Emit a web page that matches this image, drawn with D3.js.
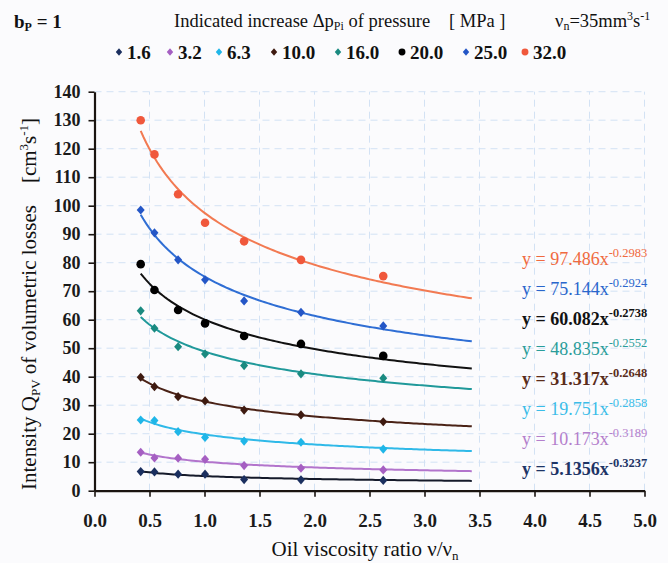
<!DOCTYPE html>
<html><head><meta charset="utf-8">
<script src="https://cdn.jsdelivr.net/npm/d3@7"></script>
<style>
body{margin:0;background:#fbfbfd}
svg{display:block}
svg text{font-family:"Liberation Serif","Times New Roman",serif !important}
</style>
</head><body>
<svg id="c" width="668" height="563"></svg>
<script>
// ---- data ----
const xValues = [0.42, 0.545, 0.76, 1.005, 1.36, 1.877, 2.625];
const pressures = ["1.6", "3.2", "6.3", "10.0", "16.0", "20.0", "25.0", "32.0"];
const q1_6  = [6.7, 6.6, 5.8, 5.8, 3.9, 3.8, 3.6];
const q3_2  = [13.5, 11.5, 11.4, 11.0, 8.8, 7.9, 7.3];
const q6_3  = [24.8, 24.6, 20.7, 18.7, 17.4, 17.0, 14.6];
const q10_0 = [39.8, 36.5, 33.0, 31.5, 28.3, 26.6, 24.2];
const q16_0 = [63.1, 57.0, 50.5, 48.0, 43.9, 41.0, 39.5];
const q20_0 = [79.5, 70.4, 63.4, 58.7, 54.3, 51.5, 47.3];
const q25_0 = [98.5, 90.5, 81.0, 74.0, 66.6, 62.6, 57.8];
const q32_0 = [130.0, 118.0, 104.0, 94.0, 87.5, 81.0, 75.3];
const fitCoef = [5.1356, 10.173, 19.751, 31.317, 48.835, 60.082, 75.144, 97.486];
const fitExp  = [-0.3237, -0.3189, -0.2858, -0.2648, -0.2552, -0.2738, -0.2924, -0.2983];
const fitCoefText = ["5.1356", "10.173", "19.751", "31.317", "48.835", "60.082", "75.144", "97.486"];
const fitExpText  = ["-0.3237", "-0.3189", "-0.2858", "-0.2648", "-0.2552", "-0.2738", "-0.2924", "-0.2983"];
const fitRange = [0.42, 3.43];
const xTicks = [0, 0.5, 1, 1.5, 2, 2.5, 3, 3.5, 4, 4.5, 5];
const yTicks = [0, 10, 20, 30, 40, 50, 60, 70, 80, 90, 100, 110, 120, 130, 140];

const seriesValues = [q1_6, q3_2, q6_3, q10_0, q16_0, q20_0, q25_0, q32_0];
const markerColors = ["#1b2f5f", "#a55fc2", "#1fb6e8", "#3e1a10", "#1a8a80", "#000000", "#2456c6", "#f0583c"];
const lineColors   = ["#151a2a", "#b274cc", "#2fb9e8", "#4a2216", "#20999a", "#111111", "#2f6ed4", "#f27a52"];
const eqColors     = ["#1d3466", "#b47fcc", "#3bbde8", "#5a2c1a", "#2a9d9a", "#111111", "#2a66cc", "#f06a40"];
const eqBold       = [true, false, false, true, false, true, false, false];
const markerShapes = ["d", "d", "d", "d", "d", "c", "d", "c"];

// ---- layout ----
const svg = d3.select("#c");
svg.append("rect").attr("width", 668).attr("height", 563).attr("fill", "#fbfbfd");
const x = d3.scaleLinear().domain([0, 5]).range([94.5, 644.5]);
const y = d3.scaleLinear().domain([0, 140]).range([490.7, 91.7]);

// grid
const grid = svg.append("g").attr("stroke", "#d3e2f4").attr("stroke-width", 1).attr("stroke-dasharray", "7,5");
grid.selectAll("line.h").data(yTicks.slice(1)).join("line")
  .attr("x1", x(0)).attr("x2", x(5)).attr("y1", d => y(d)).attr("y2", d => y(d));
grid.selectAll("line.v").data(xTicks.slice(1)).join("line")
  .attr("y1", y(0)).attr("y2", y(140)).attr("x1", d => x(d)).attr("x2", d => x(d));

// axes
const xAxis = svg.append("g").attr("transform", `translate(0,${y(0)})`)
  .call(d3.axisBottom(x).tickValues(xTicks).tickFormat(d3.format(".1f")).tickSize(6).tickSizeOuter(0));
xAxis.attr("font-family", null);
xAxis.selectAll("text").attr("y", 36).attr("dy", 0)
  .attr("font-size", 19).attr("font-weight", "bold").attr("fill", "#1a1a1a");
const yAxis = svg.append("g").attr("transform", `translate(${x(0)},0)`)
  .call(d3.axisLeft(y).tickValues(yTicks).tickSize(6).tickPadding(8).tickSizeOuter(0));
yAxis.attr("font-family", null);
yAxis.selectAll("text").attr("font-size", 18).attr("font-weight", "bold").attr("fill", "#1a1a1a");
svg.selectAll(".domain").attr("stroke", "#1a1410").attr("stroke-width", 2.2);
svg.selectAll(".tick line").attr("stroke", "#1a1410").attr("stroke-width", 1.6);

// fitted curves
const line = d3.line().x(d => x(d[0])).y(d => y(d[1]));
const samples = d3.range(0, 121).map(i => fitRange[0] + (fitRange[1] - fitRange[0]) * i / 120);
fitCoef.forEach((a, i) => {
  svg.append("path")
    .datum(samples.map(t => [t, a * Math.pow(t, fitExp[i])]))
    .attr("fill", "none").attr("stroke", lineColors[i]).attr("stroke-width", 2).attr("d", line);
});

// markers
const diamond = {draw(ctx) { const w = 4, h = 4.6; ctx.moveTo(0, -h); ctx.lineTo(w, 0); ctx.lineTo(0, h); ctx.lineTo(-w, 0); ctx.closePath(); }};
const dot = {draw(ctx) { const r = 4.3; ctx.moveTo(r, 0); ctx.arc(0, 0, r, 0, 2 * Math.PI); }};
seriesValues.forEach((vals, i) => {
  const sym = d3.symbol().type(markerShapes[i] === "c" ? dot : diamond);
  svg.append("g").selectAll("path").data(vals).join("path")
    .attr("transform", (d, j) => `translate(${x(xValues[j])},${y(d)})`)
    .attr("d", sym()).attr("fill", markerColors[i]);
});

// equations (top to bottom: 32.0 ... 1.6)
const eqG = svg.append("g").attr("font-size", 18);
for (let k = 0; k < 8; k++) {
  const i = 7 - k;
  const t = eqG.append("text").attr("x", 522).attr("y", 265 + k * 30)
    .attr("fill", eqColors[i]).attr("font-weight", eqBold[i] ? "bold" : "normal");
  t.append("tspan").text(`y = ${fitCoefText[i]}x`);
  t.append("tspan").attr("dy", -8).attr("font-size", 12.5).text(fitExpText[i]);
}

// title row
const tt = svg.append("text").attr("x", 14).attr("y", 28).attr("fill", "#111")
  .attr("font-size", 19).attr("font-weight", "bold");
tt.append("tspan").text("b");
tt.append("tspan").attr("dy", 3).attr("font-size", 12).text("P");
tt.append("tspan").attr("dy", -3).text(" = 1");

const t2 = svg.append("text").attr("x", 174).attr("y", 27).attr("fill", "#111").attr("font-size", 18.5);
t2.append("tspan").text("Indicated increase Δp");
t2.append("tspan").attr("dy", 3).attr("font-size", 12).text("Pi");
t2.append("tspan").attr("dy", -3).text(" of pressure");
svg.append("text").attr("x", 449).attr("y", 27).attr("fill", "#111").attr("font-size", 18.5).text("[ MPa ]");

const t3 = svg.append("text").attr("x", 555).attr("y", 27).attr("fill", "#111").attr("font-size", 18.5);
t3.append("tspan").text("ν");
t3.append("tspan").attr("dy", 3).attr("font-size", 12).text("n");
t3.append("tspan").attr("dy", -3).text("=35mm");
t3.append("tspan").attr("dy", -7).attr("font-size", 12).text("3");
t3.append("tspan").attr("dy", 7).text("s");
t3.append("tspan").attr("dy", -7).attr("font-size", 12).text("-1");

// legend
const legX = [119, 170, 219, 274, 338, 402, 466, 525];
pressures.forEach((p, i) => {
  const g = svg.append("g").attr("transform", `translate(${legX[i]},52)`);
  g.append("path").attr("d", d3.symbol().type(markerShapes[i] === "c" ? dot : diamond)()).attr("fill", markerColors[i])
    .attr("transform", "scale(0.8)");
  g.append("text").attr("x", 8).attr("y", 6.5).attr("fill", "#111")
    .attr("font-size", 19).attr("font-weight", "bold").text(p);
});

// axis titles
const xl = svg.append("text").attr("x", 365).attr("y", 556).attr("text-anchor", "middle").attr("fill", "#111").attr("font-size", 21);
xl.append("tspan").text("Oil viscosity ratio ν/ν");
xl.append("tspan").attr("dy", 4).attr("font-size", 13).text("n");

const yl = svg.append("text").attr("transform", "translate(36,490) rotate(-90)").attr("fill", "#111").attr("font-size", 21);
yl.append("tspan").text("Intensity Q");
yl.append("tspan").attr("dy", 4).attr("font-size", 13).text("PV");
yl.append("tspan").attr("dy", -4).text(" of volumetric losses");
yl.append("tspan").attr("dx", 22).text("[cm");
yl.append("tspan").attr("dy", -8).attr("font-size", 13).text("3");
yl.append("tspan").attr("dy", 8).text("s");
yl.append("tspan").attr("dy", -8).attr("font-size", 13).text("-1");
yl.append("tspan").attr("dy", 8).text("]");
</script>
</body></html>
